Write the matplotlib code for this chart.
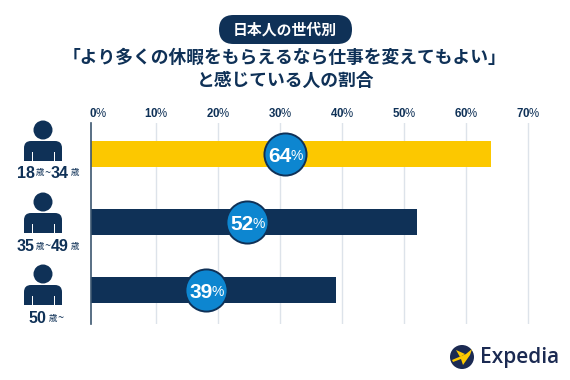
import matplotlib
matplotlib.use("Agg")
import matplotlib.pyplot as plt
from matplotlib.patches import Circle, FancyBboxPatch, Polygon, Rectangle
from matplotlib.transforms import ScaledTranslation

plt.rcParams['font.family'] = ['Noto Sans CJK JP', 'DejaVu Sans']
plt.rcParams['mathtext.fontset'] = 'custom'
plt.rcParams['mathtext.bf'] = 'Liberation Sans:bold'
plt.rcParams['mathtext.rm'] = 'Liberation Sans'

# ---- data ----
values = [64, 52, 39]
bar_colors = ['#fcc800', '#0f3157', '#0f3157']
age_parts = [['18', '歳', '~', '34', '歳'], ['35', '歳', '~', '49', '歳'], ['50', '歳', '~']]
x_ticks = [0, 10, 20, 30, 40, 50, 60, 70]
title_pill = '日本人の世代別'
title_lines = ['「より多くの休暇をもらえるなら仕事を変えてもよい」', 'と感じている人の割合']
brand = 'Expedia'

NAVY = '#0f3157'
W, H = 570, 380
fig = plt.figure(figsize=(W / 100, H / 100), dpi=100, facecolor='white')

# ---- chart axes (pixel frame of the reference) ----
L, R, T, B = 90.7, 530.0, 123.0, 324.0
ax = fig.add_axes([L / W, 1 - B / H, (R - L) / W, (B - T) / H])
PX = 6.2
x0 = -(94.3 - L) / PX
ax.set_xlim(x0, x0 + (R - L) / PX)
ax.set_ylim(2 + 34 / 68, -31 / 68)
y = list(range(len(values)))
ax.barh(y, [v - x0 for v in values], left=x0, height=26 / 68, color=bar_colors, zorder=2)
for t in x_ticks[1:]:
    ax.axvline(t, color='#dde3ea', lw=1, zorder=1)
for s in ['top', 'right', 'bottom']:
    ax.spines[s].set_visible(False)
ax.spines['left'].set_color('#3c566f')
ax.spines['left'].set_linewidth(1.2)
ax.spines['left'].set_zorder(4)
ax.set_yticks([])
ax.xaxis.tick_top()
ax.set_xticks(x_ticks)
ax.set_xticklabels([rf'$\mathbf{{{t}}}$%' for t in x_ticks], fontsize=8.3,
                   family='Liberation Sans', color=NAVY)
ax.tick_params(axis='x', length=0, pad=2)
first = ax.get_xticklabels()[0]
first.set_transform(first.get_transform() + ScaledTranslation(3 / 72, 0, fig.dpi_scale_trans))
ax.patch.set_alpha(0)
# value badges
badge_x = [v * 0.508 - 1.8 for v in values]
ax.scatter(badge_x, y, s=920, color='#0d86d0', edgecolor=NAVY, linewidth=1.4, zorder=5, clip_on=False)

# ---- overlay in pixel coordinates ----
ov = fig.add_axes([0, 0, 1, 1], zorder=10)
ov.set_xlim(0, W)
ov.set_ylim(H, 0)
ov.axis('off')
fig.canvas.draw()
rend = fig.canvas.get_renderer()


def runs(cx, cy, parts, color, tight=0.0):
    """Draw text pieces of mixed size, centred as one on cx,cy (pixels)."""
    items, total = [], 0.0
    for s, size, weight, fam in parts:
        tx = ov.text(0, cy, s, fontsize=size, fontweight=weight, color=color, family=fam,
                     ha='left', va='center_baseline')
        w = tx.get_window_extent(rend).width - tight
        items.append((tx, w))
        total += w
    x = cx - total / 2
    for tx, w in items:
        tx.set_x(x)
        x += w


# pill + title
ov.add_patch(FancyBboxPatch((219, 15), 133, 29, boxstyle='round,pad=0,rounding_size=14.5', fc=NAVY, ec='none'))
ov.text(285, 30, title_pill, color='white', fontsize=10.7, fontweight='bold', ha='center', va='center')
ov.text(285, 58, title_lines[0], color=NAVY, fontsize=12.8, fontweight='bold', ha='center', va='center')
ov.text(286, 81, title_lines[1], color=NAVY, fontsize=12.8, fontweight='bold', ha='center', va='center')

# people icons and age labels
for i, parts in enumerate(age_parts):
    dy = i * 72
    ov.add_patch(Circle((43, 130 + dy), 9.5, fc=NAVY, ec='none'))
    ov.add_patch(FancyBboxPatch((24, 141 + dy), 38, 20, boxstyle='round,pad=0,rounding_size=7', fc=NAVY, ec='none'))
    ov.add_patch(Rectangle((24, 150 + dy), 38, 11, fc=NAVY, ec='none'))
    for sx in (31.5, 53.5):
        ov.add_patch(Rectangle((sx, 152 + dy), 1.2, 9, fc='white', ec='none'))
    styled = []
    for p in parts:
        if p.isdigit():
            styled.append((p, 11.5, 'bold', 'Liberation Sans'))
        elif p == '歳':
            styled.append((' ' + p, 6.2, 'normal', 'Noto Sans CJK JP'))
        else:
            styled.append((p, 8, 'normal', 'Noto Sans CJK JP'))
    runs(48 if i < 2 else 46, 172 + dy + (1 if i else 0), styled, NAVY)

# badge labels
for v, bx, by in zip(values, badge_x, y):
    px, py = 94.3 + bx * PX, T + (by + 31 / 68) * 68
    runs(px, py, [(str(v), 15, 'bold', 'Liberation Sans'), ('%', 10, 'normal', 'Liberation Sans')], 'white', tight=1.5)

# logo
ov.add_patch(Circle((462, 357), 12, fc='#1b2a52', ec='none'))
ov.add_patch(Polygon([(452, 360), (466, 354), (472, 349), (470, 355), (463, 365), (461, 359), (453, 362)],
                     fc='#fcc800', ec='none'))
ov.add_patch(Polygon([(456, 350), (465, 354), (460, 357)], fc='#fcc800', ec='none'))
ov.text(480, 358, brand, color='#1b2a52', fontsize=15, family='Open Sans', fontweight='semibold',
        ha='left', va='center')

fig.savefig('out.png', dpi=100)
